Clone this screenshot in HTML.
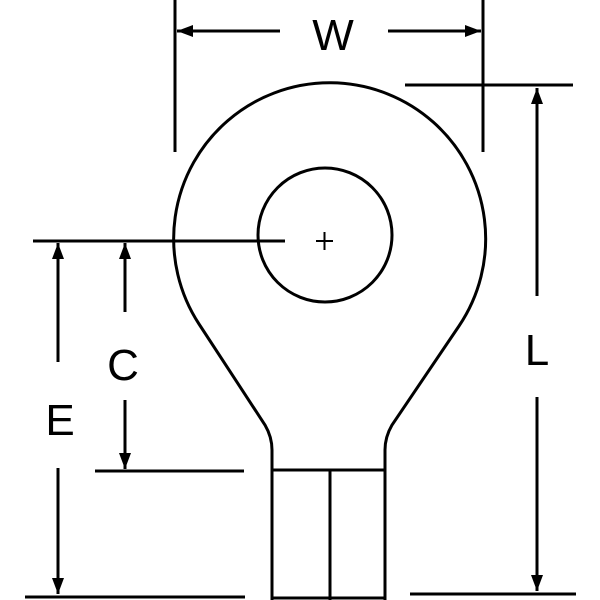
<!DOCTYPE html>
<html><head><style>html,body{margin:0;padding:0;background:#fff}svg{display:block}</style></head>
<body>
<svg width="600" height="600" viewBox="0 0 600 600" xmlns="http://www.w3.org/2000/svg">
<defs>
<marker id="a" viewBox="0 0 16 12" refX="16" refY="6" markerWidth="16" markerHeight="12" markerUnits="userSpaceOnUse" orient="auto">
<path d="M0,0 L16,6 L0,12 z" fill="#000"/></marker>
</defs>
<g stroke="#000" stroke-width="3" fill="none">
<line x1="175" y1="0" x2="175" y2="152"/>
<line x1="483" y1="0" x2="483" y2="152"/>
<line x1="280" y1="31" x2="177" y2="31" marker-end="url(#a)"/>
<line x1="388" y1="31" x2="481" y2="31" marker-end="url(#a)"/>
<path d="M272,600 L272,450 Q272,437 265,425 L199,324 A156,156 0 1 1 459,326 L392,425 Q385,437 385,450 L385,600"/>
<line x1="272" y1="470" x2="385" y2="470"/>
<line x1="330" y1="470" x2="330" y2="600"/>
<line x1="272" y1="598" x2="385" y2="598"/>
<circle cx="325" cy="235" r="67"/>
<line x1="316" y1="241" x2="333" y2="241" stroke-width="2"/>
<line x1="324.5" y1="232" x2="324.5" y2="250" stroke-width="2"/>
<line x1="33" y1="241" x2="285" y2="241"/>
<line x1="95" y1="471" x2="244" y2="471"/>
<line x1="25" y1="597" x2="245" y2="597"/>
<line x1="405" y1="85" x2="573" y2="85"/>
<line x1="410" y1="594" x2="576" y2="594"/>
<line x1="58" y1="362" x2="58" y2="243" marker-end="url(#a)"/>
<line x1="58" y1="468" x2="58" y2="594" marker-end="url(#a)"/>
<line x1="125" y1="312" x2="125" y2="243" marker-end="url(#a)"/>
<line x1="125" y1="400" x2="125" y2="469" marker-end="url(#a)"/>
<line x1="537" y1="296" x2="537" y2="88" marker-end="url(#a)"/>
<line x1="537" y1="397" x2="537" y2="591" marker-end="url(#a)"/>
</g>
<g font-family="Liberation Sans, sans-serif" font-size="44" text-anchor="middle" fill="#000">
<text x="333" y="50">W</text>
<text x="123" y="380">C</text>
<text x="60" y="435">E</text>
<text x="537" y="365">L</text>
</g>
</svg>
</body></html>
